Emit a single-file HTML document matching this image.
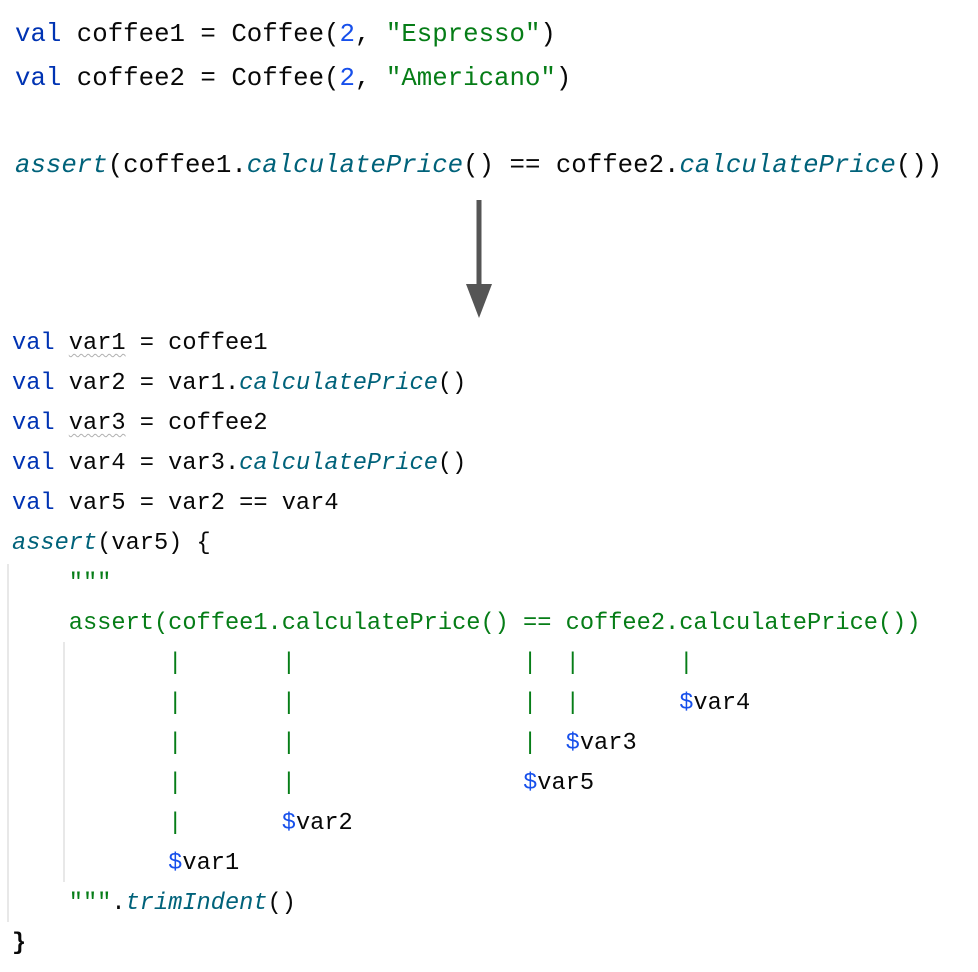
<!DOCTYPE html>
<html><head><meta charset="utf-8"><style>
body{margin:0;width:978px;height:972px;background:#fff;position:relative;overflow:hidden;font-family:"Liberation Mono","DejaVu Sans Mono",monospace;color:#080808}
pre{margin:0;position:absolute;font-family:inherit;white-space:pre}
#top{left:15px;top:13px;font-size:25.75px;line-height:43.5px}
#bot{left:12px;top:324px;font-size:23.67px;line-height:40px}
.k{color:#0033b3}.n{color:#1750eb}.s{color:#067d17}.i{color:#00627a;font-style:italic}.d{color:#1750eb}
.w{text-decoration:underline wavy #b0b0b0;text-decoration-thickness:1px;text-underline-offset:4px}
.g{position:absolute;width:2px;background:#e8e8e8}
</style></head><body>
<pre id="top"><span class="k">val</span> coffee1 = Coffee(<span class="n">2</span>, <span class="s">"Espresso"</span>)
<span class="k">val</span> coffee2 = Coffee(<span class="n">2</span>, <span class="s">"Americano"</span>)

<span class="i">assert</span>(coffee1.<span class="i">calculatePrice</span>() == coffee2.<span class="i">calculatePrice</span>())</pre>
<svg style="position:absolute;left:0;top:0" width="978" height="330">
<line x1="479" y1="200" x2="479" y2="290" stroke="#555" stroke-width="5"/>
<polygon points="466,284 492,284 479,318" fill="#555"/>
</svg>
<div class="g" style="left:7px;top:564px;height:358px"></div>
<div class="g" style="left:63px;top:642px;height:240px"></div>
<pre id="bot"><span class="k">val</span> <span class="w">var1</span> = coffee1
<span class="k">val</span> var2 = var1.<span class="i">calculatePrice</span>()
<span class="k">val</span> <span class="w">var3</span> = coffee2
<span class="k">val</span> var4 = var3.<span class="i">calculatePrice</span>()
<span class="k">val</span> var5 = var2 == var4
<span class="i">assert</span>(var5) {
<span class="s">    """</span>
<span class="s">    assert(coffee1.calculatePrice() == coffee2.calculatePrice())</span>
<span class="s">           |       |                |  |       |</span>
<span class="s">           |       |                |  |       </span><span class="d">$</span>var4
<span class="s">           |       |                |  </span><span class="d">$</span>var3
<span class="s">           |       |                </span><span class="d">$</span>var5
<span class="s">           |       </span><span class="d">$</span>var2
           <span class="d">$</span>var1
<span class="s">    """</span>.<span class="i">trimIndent</span>()
<b>}</b></pre>
</body></html>
